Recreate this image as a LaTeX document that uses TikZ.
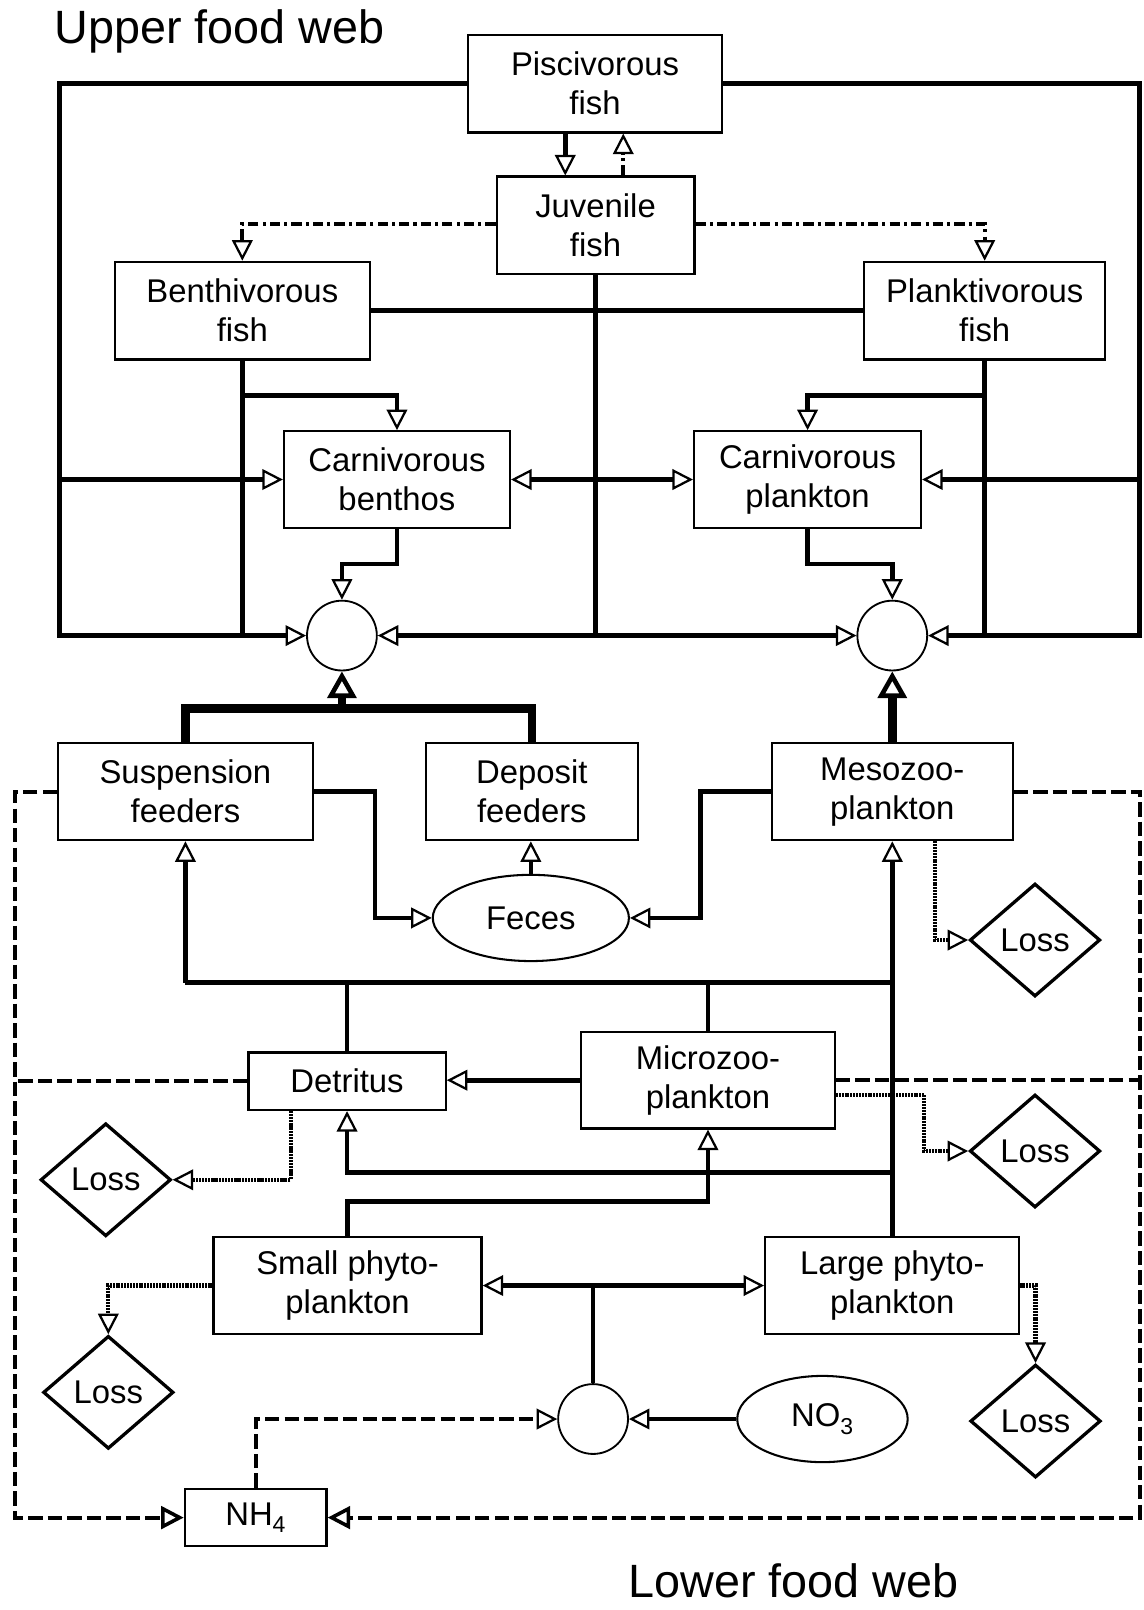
\documentclass[tikz,border=0pt]{standalone}
\usepackage{fontspec}
\setmainfont{Liberation Sans}
\usetikzlibrary{arrows.meta,shapes.geometric,calc}
\begin{document}
\begin{tikzpicture}[x=1pt,y=-1pt,
  every node/.style={font=\fontsize{32}{38}\selectfont},
  box/.style={draw, line width=2.2pt, rectangle, inner sep=0pt, align=center},
  circ/.style={circle, draw, line width=1.8pt, minimum size=68pt, inner sep=0pt},
  ell/.style={ellipse, draw, line width=2pt, inner sep=0pt},
  loss/.style={diamond, draw, line width=3.2pt, minimum width=127pt, minimum height=110pt, inner sep=0pt},
  conn/.style={line width=4.5pt},
  thickc/.style={line width=8.5pt},
  dotc/.style={line width=4pt, dash pattern=on 2pt off 0.8pt},
  dashc/.style={line width=4pt, dash pattern=on 14pt off 5pt},
  jdash/.style={line width=4pt, dash pattern=on 10pt off 4pt on 3pt off 4pt},
  >={Triangle[open,length=20pt,width=20pt,line width=2.2pt]},
  bigtip/.style={-{Triangle[open,length=26pt,width=28pt,line width=4.5pt]}},
  nhtip/.style={-{Triangle[open,length=22pt,width=22pt,line width=3.5pt]}}
]
\fill[white] (0,0) rectangle (1114,1568);
\useasboundingbox (0,0) rectangle (1114,1568);

% titles
\node[anchor=base west, font=\fontsize{45.5}{52}\selectfont, inner sep=0pt] (up) at (53,42) {Upper food web};
\node[anchor=base west, font=\fontsize{45.5}{52}\selectfont, inner sep=0pt] (low) at (612,1556) {Lower food web};

% nodes
\node[box, minimum width=248pt, minimum height=95pt] (pisc) at (579.5,81.5) {Piscivorous\\fish};
\node[box, minimum width=192.5pt, minimum height=95pt] (juv) at (580,219.5) {Juvenile\\fish};
\node[box, minimum width=248pt, minimum height=95pt] (benth) at (236,302.5) {Benthivorous\\fish};
\node[box, minimum width=234.6pt, minimum height=95pt] (plank) at (959,302.5) {Planktivorous\\fish};
\node[box, minimum width=220pt, minimum height=94pt] (cbenth) at (386.6,467) {Carnivorous\\benthos};
\node[box, minimum width=221pt, minimum height=94pt] (cplank) at (786.5,467) {Carnivorous\\plankton};
\node[circ] (circL) at (333,619) {};
\node[circ] (circR) at (869,619) {};
\node[box, minimum width=248pt, minimum height=94.5pt] (susp) at (180.6,771) {Suspension\\feeders};
\node[box, minimum width=206pt, minimum height=94.5pt] (dep) at (518,771) {Deposit\\feeders};
\node[box, minimum width=234.4pt, minimum height=94.5pt] (meso) at (869,771) {Mesozoo-\\plankton};
\node[ell, minimum width=191pt, minimum height=84pt] (feces) at (517,894) {Feces};
\node[loss] (lossM) at (1008,915.5) {Loss};
\node[box, minimum width=192pt, minimum height=56pt] (detr) at (338,1053) {Detritus};
\node[box, minimum width=247pt, minimum height=94pt] (micro) at (689.5,1052) {Microzoo-\\plankton};
\node[loss] (lossD) at (103,1149) {Loss};
\node[loss] (lossMi) at (1008,1121) {Loss};
\node[box, minimum width=261pt, minimum height=94.4pt] (sphyto) at (338.5,1252) {Small phyto-\\plankton};
\node[box, minimum width=247.5pt, minimum height=94.4pt] (lphyto) at (869,1252) {Large phyto-\\plankton};
\node[loss] (lossS) at (105.5,1356) {Loss};
\node[loss] (lossL) at (1008.5,1384) {Loss};
\node[circ] (circB) at (577.6,1382) {};
\node[ell, minimum width=166pt, minimum height=84pt] (no3) at (801,1382) {NO\textsubscript{3}};
\node[box, minimum width=138pt, minimum height=56pt] (nh4) at (249,1478) {NH\textsubscript{4}};

% junction coordinates
\coordinate (LB) at (58,619);
\coordinate (LM) at (58,467);
\coordinate (RB) at (1110,619);
\coordinate (RM) at (1110,467);
\coordinate (BB) at (236,619);
\coordinate (BS) at (236,385);
\coordinate (PB) at (959,619);
\coordinate (PS) at (959,385);
\coordinate (JB) at (580,619);
\coordinate (TK) at (333,690);
\coordinate (H1) at (180.6,957);
\coordinate (H2) at (869,957);
\coordinate (H3) at (869,1142);
\coordinate (J) at (577.6,1252);
\coordinate (FL1) at (15,771);
\coordinate (FL2) at (15,1478);
\coordinate (FR1) at (1110,771);
\coordinate (FR2) at (1110,1478);

% upper food web
\draw[conn,->] (pisc.west) -| (LB) -- (circL.west);
\draw[conn,->] (LM) -- (cbenth.west);
\draw[conn,->] (pisc.east) -| (RB) -- (circR.east);
\draw[conn,->] (RM) -- (cplank.east);
\draw[conn] (benth.south) -- (BB);
\draw[conn,->] (BS) -| (cbenth.north);
\draw[conn] (plank.south) -- (PB);
\draw[conn,->] (PS) -| (cplank.north);
\draw[conn] (juv.south) -- (JB);
\draw[conn,<->] (circL.east) -- (circR.west);
\draw[conn] (benth.east) -- (plank.west);
\draw[conn,<->] (cbenth.east) -- (cplank.west);
\draw[conn,->] (cbenth.south) -- ++(0,34) -| (circL.north);
\draw[conn,->] (cplank.south) -- ++(0,34) -| (circR.north);
\draw[conn,->] ([xshift=-29pt]pisc.south) -- ([xshift=-29pt]pisc.south |- juv.north);
\draw[jdash,->] ([xshift=27pt]juv.north) -- ([xshift=27pt]juv.north |- pisc.south);
\draw[jdash,->] ([yshift=1.5pt]juv.west) -| (benth.north);
\draw[jdash,->] ([yshift=1.5pt]juv.east) -| (plank.north);

% benthos / zooplankton into circles
\draw[thickc] (susp.north) |- (TK) -| (dep.north);
\draw[thickc,bigtip] (TK) -- (circL.south);
\draw[thickc,bigtip] (meso.north) -- (circR.south);

% feces
\draw[conn,->] (susp.east) -- ++(59.5,0) |- (feces.west);
\draw[conn,->] (meso.west) -- ++(-68.5,0) |- (feces.east);
\draw[conn,->] (feces.north) -- (feces.north |- dep.south);
\draw[dotc,->] ([xshift=42pt]meso.south) |- (lossM.west);

% lower food web
\draw[conn] (H1) -- (H2);
\draw[conn,->] (H1) -- (susp.south);
\draw[conn] (detr.north) -- (detr.north |- H1);
\draw[conn] (micro.north) -- (micro.north |- H1);
\draw[conn,->] (lphyto.north) -- (lphyto.north |- meso.south);
\draw[conn,->] (micro.west) -- (micro.west -| detr.east);
\draw[conn,->] (H3) -| (detr.south);
\draw[conn,->] (sphyto.north) -- ++(0,-33.5) -| (micro.south);
\draw[dotc,->] ([xshift=-55pt]detr.south) |- (lossD.east);
\draw[dotc,->] ([yshift=-14pt]micro.east) -- ++(86,0) |- (lossMi.west);

\draw[conn] (circB.north) -- (J);
\draw[conn,->] (J) -- (sphyto.east);
\draw[conn,->] (J) -- (lphyto.west);
\draw[conn,->] (no3.west) -- (circB.east);
\draw[dashc,->] (nh4.north) |- (circB.west);
\draw[dotc,->] (sphyto.west) -| (lossS.north);
\draw[dotc,->] (lphyto.east) -| (lossL.north);

% dashed frame
\draw[dashc,nhtip] (susp.west) -- (FL1) -- (FL2) -- (nh4.west);
\draw[dashc] (detr.west) -- (detr.west -| FL1);
\draw[dashc,nhtip] (meso.east) -- (FR1) -- (FR2) -- (nh4.east);
\draw[dashc] (micro.east) -- (micro.east -| FR1);
\end{tikzpicture}
\end{document}
